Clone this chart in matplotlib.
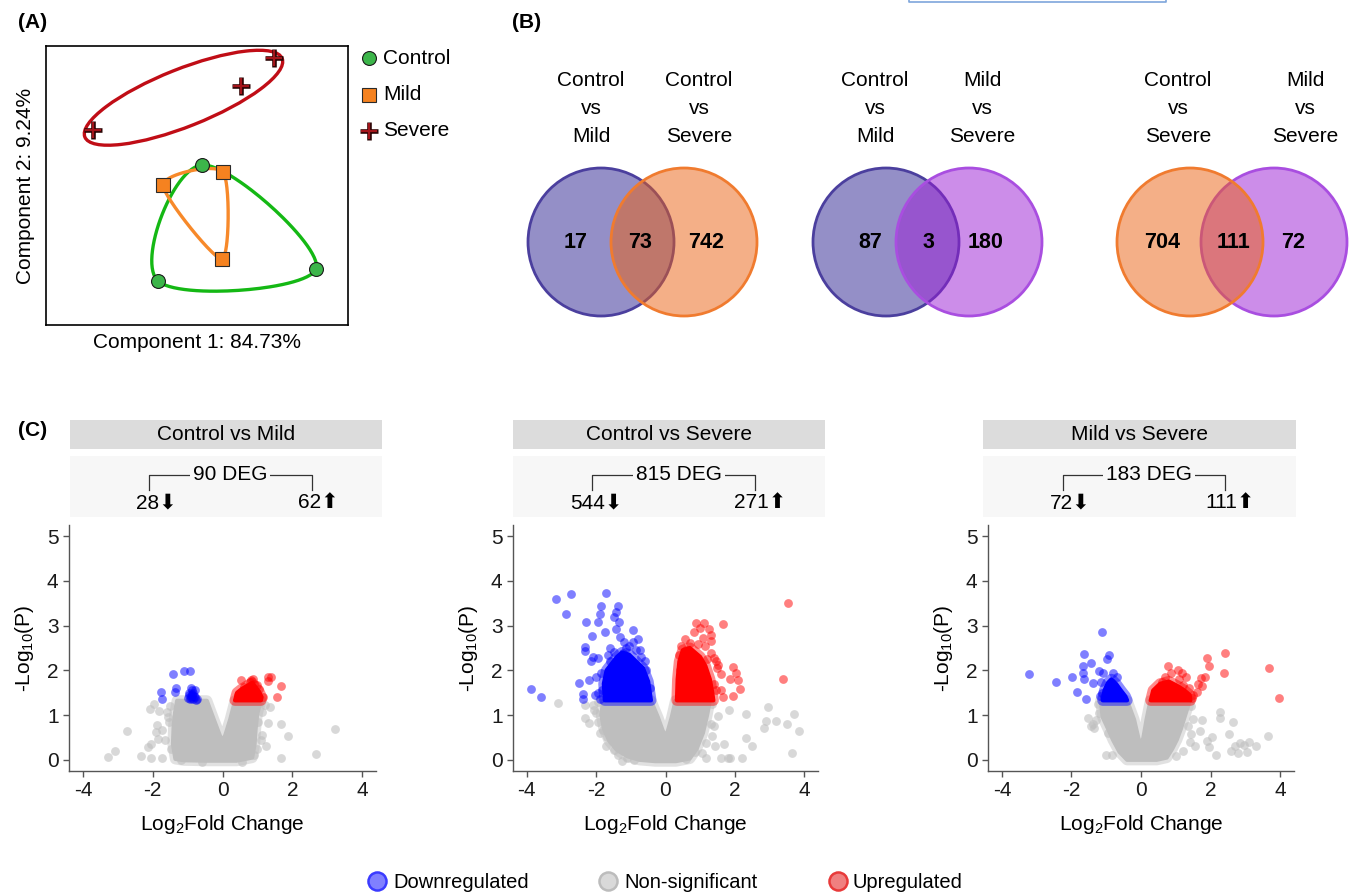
import numpy as np
import matplotlib
matplotlib.use('Agg')
import matplotlib.pyplot as plt
from matplotlib.patches import Ellipse, Rectangle
from matplotlib.colors import to_rgba

plt.rcParams['font.family'] = ['Liberation Sans', 'DejaVu Sans']
plt.rcParams['mathtext.fontset'] = 'custom'
plt.rcParams['mathtext.rm'] = 'Liberation Sans'
plt.rcParams['mathtext.it'] = 'Liberation Sans:italic'
plt.rcParams['mathtext.bf'] = 'Liberation Sans:bold'

# ---------------- data ----------------
# (A) PCA scores
control_pc1 = [0.20, -1.56, 4.76]
control_pc2 = [0.82, -3.82, -3.34]
mild_pc1 = [-1.36, 1.04, 1.00]
mild_pc2 = [0.02, 0.54, -2.94]
severe_pc1 = [3.08, 1.76, -4.16]
severe_pc2 = [5.10, 3.98, 2.22]
pc1_label = 'Component 1: 84.73%'
pc2_label = 'Component 2: 9.24%'

# (B) Venn diagrams
venn_left = ['Control vs Mild', 'Control vs Mild', 'Control vs Severe']
venn_right = ['Control vs Severe', 'Mild vs Severe', 'Mild vs Severe']
venn_only_left = [17, 87, 704]
venn_both = [73, 3, 111]
venn_only_right = [742, 180, 72]

# (C) volcano plots
comparisons = ['Control vs Mild', 'Control vs Severe', 'Mild vs Severe']
deg_total = [90, 815, 183]
deg_down = [28, 544, 72]
deg_up = [62, 271, 111]

# Control vs Mild
cm_core_x = [-1.35, -1.42, -1.40, -1.36, -1.30, -0.45, -0.25, -0.08, 0.00, 0.08, 0.22, 0.36, 1.10, 1.00, 0.95, 0.92, 0.85, 0.40, -0.40, -1.10]
cm_core_y = [0.02, 0.35, 0.75, 1.05, 1.32, 1.32, 0.90, 0.55, 0.42, 0.55, 0.90, 1.32, 1.32, 1.05, 0.70, 0.35, 0.05, -0.02, -0.02, -0.01]
cm_gray_x = [-3.29, -3.07, -2.75, -2.33, -2.13, -2.04, -2.04, -1.73, -1.97, -2.07, -1.81, -1.59, -1.87, -1.90, -1.73, -1.85, -1.64, -1.54,
             1.22, 1.36, 1.12, 1.03, 1.31, 1.67, 1.89, 1.24, 3.22, 2.68, 1.67, 0.70, 0.89, 1.12,
             -1.50, -1.55, -1.48, 1.05, 1.10, 1.00, -1.20, -0.60, 0.55]
cm_gray_y = [0.07, 0.20, 0.65, 0.09, 0.28, 0.35, 0.03, 0.03, 1.25, 1.14, 1.09, 1.07, 0.78, 0.63, 0.67, 0.47, 0.45, 0.85,
             1.23, 1.19, 1.07, 0.85, 0.82, 0.80, 0.54, 0.31, 0.69, 0.12, 0.04, 0.12, 0.11, 0.56,
             1.20, 0.95, 0.25, 1.25, 0.45, 0.25, 0.00, -0.05, -0.05]
cm_down_core_x = []
cm_down_core_y = []
cm_down_x = [-1.42, -1.09, -0.94, -1.75, -1.72, -1.32, -1.36, -0.90, -0.95, -0.85, -0.82, -0.90, -0.78, -1.00, -0.88, -0.80, -0.93, -0.72, -0.86, -0.97, -0.84, -0.91, -0.76, -0.88]
cm_down_y = [1.91, 1.99, 1.99, 1.52, 1.36, 1.61, 1.51, 1.61, 1.45, 1.50, 1.42, 1.38, 1.40, 1.38, 1.55, 1.55, 1.35, 1.37, 1.45, 1.50, 1.36, 1.42, 1.33, 1.48]
cm_up_core_x = [0.36, 0.42, 0.55, 0.72, 0.85, 0.95, 1.05, 1.12, 1.10]
cm_up_core_y = [1.33, 1.50, 1.58, 1.66, 1.72, 1.62, 1.52, 1.40, 1.33]
cm_up_x = [0.52, 0.82, 1.31, 1.39, 1.30, 1.67, 1.57, 0.62, 0.78, 0.90, 0.98, 1.05, 0.45, 0.70, 1.15, 0.88]
cm_up_y = [1.79, 1.79, 1.86, 1.86, 1.76, 1.64, 1.41, 1.62, 1.75, 1.70, 1.68, 1.58, 1.45, 1.55, 1.40, 1.80]

# Control vs Severe
cs_core_x = [-1.80, -1.85, -1.78, -1.62, -1.40, -1.10, -0.75, -0.30, 0.30, 0.70, 0.90, 1.08, 1.20, 1.28, 0.29, 0.18, 0.07, 0.00, -0.08, -0.22, -0.42]
cs_core_y = [1.32, 1.00, 0.70, 0.42, 0.22, 0.08, 0.00, -0.03, -0.03, 0.03, 0.25, 0.60, 1.00, 1.32, 1.32, 0.95, 0.65, 0.52, 0.65, 0.95, 1.32]
cs_gray_x = [-3.10, -2.33, -2.21, -2.33, -2.10, -2.00, -2.05, -1.79, -1.70, -1.72, -1.50, -1.37, 2.96, 2.32, 2.83, 2.90, 3.20, 3.51, 3.70, 3.84,
             3.65, 2.32, 2.49, 1.69, 1.44, 1.16, 1.34, 1.39, 1.83, 1.60, 1.87, 2.20, 0.85, 1.16, 1.52, 1.80, -1.95, -0.90, -1.10, 0.60,
             -1.95, -1.90, -1.25, 1.35, 1.30, 1.05]
cs_gray_y = [1.28, 0.93, 0.83, 1.22, 1.22, 1.05, 1.12, 0.67, 0.50, 0.30, 0.22, 0.11, 1.19, 1.02, 0.72, 0.86, 0.86, 0.80, 1.02, 0.65,
             0.16, 0.48, 0.32, 0.35, 0.32, 0.37, 0.53, 0.76, 1.11, 0.04, 0.04, 0.04, 0.18, 0.04, 0.98, 0.04, 0.85, 0.00, 0.03, 0.02,
             1.30, 0.60, -0.02, 1.25, 0.80, 0.15]
cs_down_core_x = [-1.75, -1.78, -1.70, -1.55, -1.40, -1.25, -1.05, -0.85, -0.65, -0.50, -0.42]
cs_down_core_y = [1.33, 1.70, 2.00, 2.15, 2.30, 2.40, 2.35, 2.20, 2.05, 1.75, 1.33]
cs_down_x = [-3.16, -2.73, -2.88, -1.71, -1.85, -1.90, -2.28, -1.96, -1.76, -2.12, -2.32, -2.32, -2.10, -1.95, -2.15, -3.89, -3.59, -2.51, -2.37, -2.37, -2.20,
             -2.04, -1.94, -1.37, -1.42, -1.50, -1.35, -1.44, -0.94, -1.20, -0.95, -0.85, -1.23, -1.60, -1.30, -1.05, -0.70, -0.60, -1.65, -1.85, -2.00, -0.80,
             -1.82, -1.90, -1.60, -1.48, -0.55, -0.45, -0.75, -1.15]
cs_down_y = [3.59, 3.71, 3.26, 3.72, 3.44, 3.27, 3.09, 3.09, 2.85, 2.77, 2.53, 2.43, 2.30, 2.28, 2.20, 1.58, 1.41, 1.71, 1.48, 1.37, 1.79,
             1.45, 1.50, 3.45, 3.30, 3.20, 3.09, 2.92, 2.90, 2.64, 2.64, 2.45, 2.38, 2.50, 2.75, 2.55, 2.30, 2.20, 2.35, 1.95, 1.85, 2.70,
             1.55, 1.35, 2.20, 2.42, 2.00, 1.60, 2.45, 2.50]
cs_up_core_x = [0.33, 0.35, 0.40, 0.50, 0.70, 0.85, 1.00, 1.15, 1.28, 1.35, 1.38]
cs_up_core_y = [1.33, 1.80, 2.20, 2.45, 2.50, 2.40, 2.30, 2.10, 1.80, 1.50, 1.33]
cs_up_x = [3.53, 3.39, 1.65, 0.89, 1.10, 1.00, 1.25, 0.82, 1.30, 1.08, 1.30, 0.55, 0.60, 1.94, 2.04, 2.10, 1.86, 2.15, 1.96, 1.61, 1.66, 1.61, 1.50, 1.52,
           1.40, 1.30, 1.45, 0.95, 0.70, 0.45, 1.15, 1.40, 0.38, 0.42, 1.45, 1.20]
cs_up_y = [3.50, 1.81, 3.03, 3.07, 3.05, 2.95, 2.92, 2.85, 2.80, 2.72, 2.65, 2.70, 2.45, 2.07, 1.93, 1.78, 1.80, 1.58, 1.42, 1.56, 1.40, 1.91, 2.05, 2.12,
           2.28, 2.38, 2.20, 2.60, 2.62, 2.55, 2.55, 1.70, 2.35, 2.00, 1.55, 2.25]

# Mild vs Severe
ms_core_x = [-1.16, -1.10, -0.95, -0.80, -0.62, -0.40, 0.45, 0.74, 0.90, 1.03, 1.15, 1.25, 1.40, 0.27, 0.16, 0.07, 0.00, -0.08, -0.20, -0.40]
ms_core_y = [1.32, 0.95, 0.70, 0.44, 0.18, 0.00, 0.00, 0.05, 0.25, 0.45, 0.70, 0.95, 1.32, 1.32, 0.90, 0.50, 0.30, 0.50, 0.90, 1.32]
ms_gray_x = [-1.51, -1.30, -1.38, -1.35, -1.02, -0.83, 2.27, 2.27, 2.65, 2.53, 3.65, 3.10, 2.85, 2.70, 2.95, 3.30, 2.60, 2.80, 3.05, 2.17, 1.90, 2.05,
             1.95, 1.50, 1.75, 1.70, 1.45, 1.40, 1.55, 1.20, 1.00, -1.45, -0.95, -1.25, -1.20, 1.45, 1.35]
ms_gray_y = [0.93, 0.88, 0.80, 0.72, 0.11, 0.11, 1.08, 0.93, 0.85, 0.58, 0.53, 0.40, 0.37, 0.30, 0.33, 0.32, 0.20, 0.15, 0.18, 0.10, 0.42, 0.50,
             0.28, 0.92, 0.90, 0.65, 0.58, 0.40, 0.30, 0.20, 0.08, 0.75, 0.60, 1.25, 1.05, 1.20, 0.75]
ms_down_core_x = [-1.10, -1.05, -0.95, -0.85, -0.72, -0.58, -0.45, -0.40]
ms_down_core_y = [1.33, 1.55, 1.72, 1.80, 1.70, 1.55, 1.42, 1.33]
ms_down_x = [-1.13, -3.23, -2.45, -1.64, -0.92, -0.99, -1.45, -1.68, -1.66, -1.65, -1.97, -1.83, -1.57, -1.37, -1.22, -1.10, -1.15, -1.12, -1.18, -0.80,
             -0.70, -0.95, -1.05, -0.60]
ms_down_y = [2.85, 1.92, 1.73, 2.36, 2.35, 2.25, 2.16, 2.10, 1.94, 1.80, 1.86, 1.52, 1.37, 1.71, 1.99, 1.95, 1.75, 1.50, 1.42, 1.95,
             1.85, 1.60, 1.40, 1.45]
ms_up_core_x = [0.28, 0.35, 0.55, 0.80, 1.05, 1.25, 1.40, 1.42]
ms_up_core_y = [1.33, 1.55, 1.70, 1.75, 1.65, 1.55, 1.45, 1.33]
ms_up_x = [2.42, 1.89, 1.95, 2.40, 3.69, 3.98, 1.85, 1.72, 1.65, 1.75, 1.50, 1.62, 1.48, 0.77, 0.85, 1.18, 1.28, 1.05, 1.38, 0.70, 0.60, 1.10, 1.20]
ms_up_y = [2.38, 2.27, 2.10, 1.93, 2.06, 1.38, 1.85, 1.82, 1.70, 1.65, 1.45, 1.52, 1.38, 2.10, 1.95, 1.95, 1.85, 2.00, 1.60, 1.85, 1.75, 1.80, 1.68]

legend_labels = ['Downregulated', 'Non-significant', 'Upregulated']

# ---------------- layout helpers ----------------
W, H = 1351, 894
fig = plt.figure(figsize=(W / 100, H / 100), dpi=100)


def rect(x0, y0, x1, y1):
    # pixel box with top-left origin -> figure fraction
    return [x0 / W, 1 - y1 / H, (x1 - x0) / W, (y1 - y0) / H]


ov = fig.add_axes([0, 0, 1, 1])
ov.set_xlim(0, W)
ov.set_ylim(H, 0)
ov.axis('off')

BLUE_C, ORANGE_C, VIOLET_C = '#2b2191', '#eb6111', '#9b1dd5'
set_fill = {'Control vs Mild': BLUE_C, 'Control vs Severe': ORANGE_C, 'Mild vs Severe': VIOLET_C}
set_edge = {'Control vs Mild': '#4b3f9e', 'Control vs Severe': '#f07b2f', 'Mild vs Severe': '#a94ee0'}


def loop(xs, ys, tau=0.5, n=60):
    # closed hermite spline through the points, ordered around their centroid
    p = np.column_stack([xs, ys]).astype(float)
    c = p.mean(0)
    p = p[np.argsort(np.arctan2(p[:, 1] - c[1], p[:, 0] - c[0]))]
    k = len(p)
    t = np.linspace(0, 1, n, endpoint=False)[:, None]
    h00, h10 = 2*t**3 - 3*t**2 + 1, t**3 - 2*t**2 + t
    h01, h11 = -2*t**3 + 3*t**2, t**3 - t**2
    segs = []
    for i in range(k):
        p0, p1, p2, p3 = p[(i-1) % k], p[i], p[(i+1) % k], p[(i+2) % k]
        m1, m2 = tau * (p2 - p0), tau * (p3 - p1)
        segs.append(h00*p1 + h10*m1 + h01*p2 + h11*m2)
    out = np.vstack(segs + [segs[0][:1]])
    return out[:, 0], out[:, 1]


def plus(a, x, y):
    a.plot(x, y, '+', ms=12.5, mec='#2a0505', mew=3.3, ls='none', zorder=3)
    a.plot(x, y, '+', ms=11, mec='#a3151b', mew=1.6, ls='none', zorder=3)


# ---------------- (A) PCA ----------------
ax = fig.add_axes(rect(46, 46, 348, 325))
ax.set_xlim(-6.04, 6.04)
ax.set_ylim(-5.58, 5.58)
ax.set_xticks([])
ax.set_yticks([])
for s in ax.spines.values():
    s.set_linewidth(1.2)
ax.set_xlabel(pc1_label, fontsize=15, labelpad=6)
ax.set_ylabel(pc2_label, fontsize=15, labelpad=8)

gx, gy = loop(control_pc1, control_pc2, tau=0.55)
ax.plot(gx, gy, color='#14b814', lw=2.4, zorder=2)
ox, oy = loop(mild_pc1, mild_pc2, tau=0.38)
ax.plot(ox, oy, color='#f7892a', lw=2.4, zorder=2)
sx, sy = np.array(severe_pc1), np.array(severe_pc2)
d = np.hypot(sx[:, None] - sx[None, :], sy[:, None] - sy[None, :])
i, j = np.unravel_index(d.argmax(), d.shape)
ang = np.degrees(np.arctan2(sy[j] - sy[i], sx[j] - sx[i]))
ax.add_patch(Ellipse(((sx[i] + sx[j]) / 2, (sy[i] + sy[j]) / 2 - 0.15), d.max() * 1.09, 2.3,
                     angle=ang, fill=False, ec='#c00d16', lw=2.4, zorder=2))
ax.plot(control_pc1, control_pc2, 'o', ms=10, mfc='#3cb54a', mec='#1a1a1a', mew=0.8, zorder=3)
ax.plot(mild_pc1, mild_pc2, 's', ms=10, mfc='#f58220', mec='#2a2a2a', mew=0.8, zorder=3)
plus(ax, severe_pc1, severe_pc2)

# legend of (A)
leg_y = [58, 95, 131]
ov.plot(369, leg_y[0], 'o', ms=10, mfc='#3cb54a', mec='#1a1a1a', mew=0.8)
ov.plot(369, leg_y[1], 's', ms=10, mfc='#f58220', mec='#2a2a2a', mew=0.8)
plus(ov, 369, leg_y[2])
for y, lab in zip(leg_y, ['Control', 'Mild', 'Severe']):
    ov.text(383, y, lab, fontsize=15, va='center', ha='left')

# ---------------- (B) Venn ----------------
venn_cx = [(601, 684), (886, 969), (1190, 1274)]
label_x = [(591, 699), (875, 982), (1178, 1305)]
count_x = [(576, 640, 706), (870, 928, 986), (1162, 1234, 1293)]
for k in range(3):
    sets = [venn_left[k], venn_right[k]]
    order = [0, 1] if k < 2 else [1, 0]
    for idx in order:
        nm = sets[idx]
        ov.add_patch(Ellipse((venn_cx[k][idx], 242), 146, 148, fc=to_rgba(set_fill[nm], 0.5),
                             ec=set_edge[nm], lw=2))
        ov.text(label_x[k][idx], 108, nm.replace(' vs ', '\nvs\n'), fontsize=15,
                ha='center', va='center', linespacing=1.6)
    vals = [venn_only_left[k], venn_both[k], venn_only_right[k]]
    for xx, v in zip(count_x[k], vals):
        ov.text(xx, 243, str(v), fontsize=15.5, fontweight='bold', ha='center', va='center')

# ---------------- (C) volcano ----------------
volcano_rects = [(69, 376), (513, 818), (988, 1294)]
header_x = [(70, 382), (513, 825), (983, 1296)]
bracket_x = [(149, 312), (592, 755), (1063, 1225)]
deg_cx = [230, 679, 1149]
num_cx = [(156, 318), (596, 760), (1070, 1230)]

panels = [
    (cm_core_x, cm_core_y, cm_gray_x, cm_gray_y, cm_down_core_x, cm_down_core_y, cm_down_x, cm_down_y,
     cm_up_core_x, cm_up_core_y, cm_up_x, cm_up_y),
    (cs_core_x, cs_core_y, cs_gray_x, cs_gray_y, cs_down_core_x, cs_down_core_y, cs_down_x, cs_down_y,
     cs_up_core_x, cs_up_core_y, cs_up_x, cs_up_y),
    (ms_core_x, ms_core_y, ms_gray_x, ms_gray_y, ms_down_core_x, ms_down_core_y, ms_down_x, ms_down_y,
     ms_up_core_x, ms_up_core_y, ms_up_x, ms_up_y),
]

GRAY, BLUE, RED = '#bebebe', '#0000ff', '#ff0000'


def core(a, xs, ys, color, z):
    # dense region of overlapping points: soft rim under a solid body
    a.fill(xs, ys, fc='none', ec=to_rgba(color, 0.45), lw=8, joinstyle='round', zorder=z)
    a.fill(xs, ys, fc=color, ec=color, lw=3, joinstyle='round', zorder=z)


for k, data in enumerate(panels):
    (core_x, core_y, gray_x, gray_y, dcore_x, dcore_y, down_x, down_y,
     ucore_x, ucore_y, up_x, up_y) = data
    x0, x1 = volcano_rects[k]
    ax = fig.add_axes(rect(x0, 525, x1, 771))
    ax.scatter(gray_x, gray_y, s=40, c=GRAY, alpha=0.6, lw=0, zorder=2)
    core(ax, core_x, core_y, GRAY, 2)
    if dcore_x:
        core(ax, dcore_x, dcore_y, BLUE, 3)
    core(ax, ucore_x, ucore_y, RED, 3)
    ax.scatter(down_x, down_y, s=40, c=BLUE, alpha=0.5, lw=0, zorder=4)
    ax.scatter(up_x, up_y, s=40, c=RED, alpha=0.5, lw=0, zorder=4)
    ax.set_xlim(-4.4, 4.4)
    ax.set_ylim(-0.25, 5.25)
    ax.set_xticks([-4, -2, 0, 2, 4])
    ax.set_xticklabels(['-4', '-2', '0', '2', '4'])
    ax.set_yticks([0, 1, 2, 3, 4, 5])
    for s in ['top', 'right']:
        ax.spines[s].set_visible(False)
    for s in ['left', 'bottom']:
        ax.spines[s].set_color('#555555')
        ax.spines[s].set_linewidth(1.0)
    ax.tick_params(labelsize=15, length=4, width=1, color='#555555', labelcolor='#1a1a1a')
    ax.set_xlabel(r'Log$_2$Fold Change', fontsize=15, labelpad=9)
    ax.set_ylabel(r'-Log$_{10}$(P)', fontsize=15, labelpad=8)

    # header strips
    hx0, hx1 = header_x[k]
    ov.add_patch(Rectangle((hx0, 420), hx1 - hx0, 29, fc='#dcdcdc', ec='none'))
    ov.text((hx0 + hx1) / 2, 435, comparisons[k], fontsize=15, ha='center', va='center')
    ov.add_patch(Rectangle((hx0, 456), hx1 - hx0, 61, fc='#f7f7f7', ec='none'))
    bl, br = bracket_x[k]
    ov.plot([bl, bl, br, br], [490, 475, 475, 490], color='#333333', lw=0.9)
    ov.text(deg_cx[k], 475, f'{deg_total[k]} DEG', fontsize=15, ha='center', va='center',
            bbox=dict(fc='#f7f7f7', ec='none', pad=2))
    ov.text(num_cx[k][0], 503, f'{deg_down[k]}\u2B07', fontsize=15, ha='center', va='center')
    ov.text(num_cx[k][1], 503, f'{deg_up[k]}\u2B06', fontsize=15, ha='center', va='center')

# bottom legend
leg_pos = [(377, 393), (608, 624), (838, 853)]
leg_face = ['#8080ff', '#d9d9d9', '#f08080']
leg_edge = ['#3b3bff', '#bcbcbc', '#e83a3a']
for (mx, tx), fc, ec, lab in zip(leg_pos, leg_face, leg_edge, legend_labels):
    ov.plot(mx, 881, 'o', ms=13, mfc=fc, mec=ec, mew=1.8)
    ov.text(tx, 882, lab, fontsize=14.5, ha='left', va='center')

# panel letters
ov.text(18, 22, '(A)', fontsize=15, fontweight='bold', ha='left', va='center')
ov.text(512, 22, '(B)', fontsize=15, fontweight='bold', ha='left', va='center')
ov.text(18, 430, '(C)', fontsize=15, fontweight='bold', ha='left', va='center')

# edge of a box cut off at the top
ov.plot([909, 909, 1166, 1166], [0, 1.6, 1.6, 0], color='#7ea6dc', lw=1.2)

fig.savefig('out.png', dpi=100)
